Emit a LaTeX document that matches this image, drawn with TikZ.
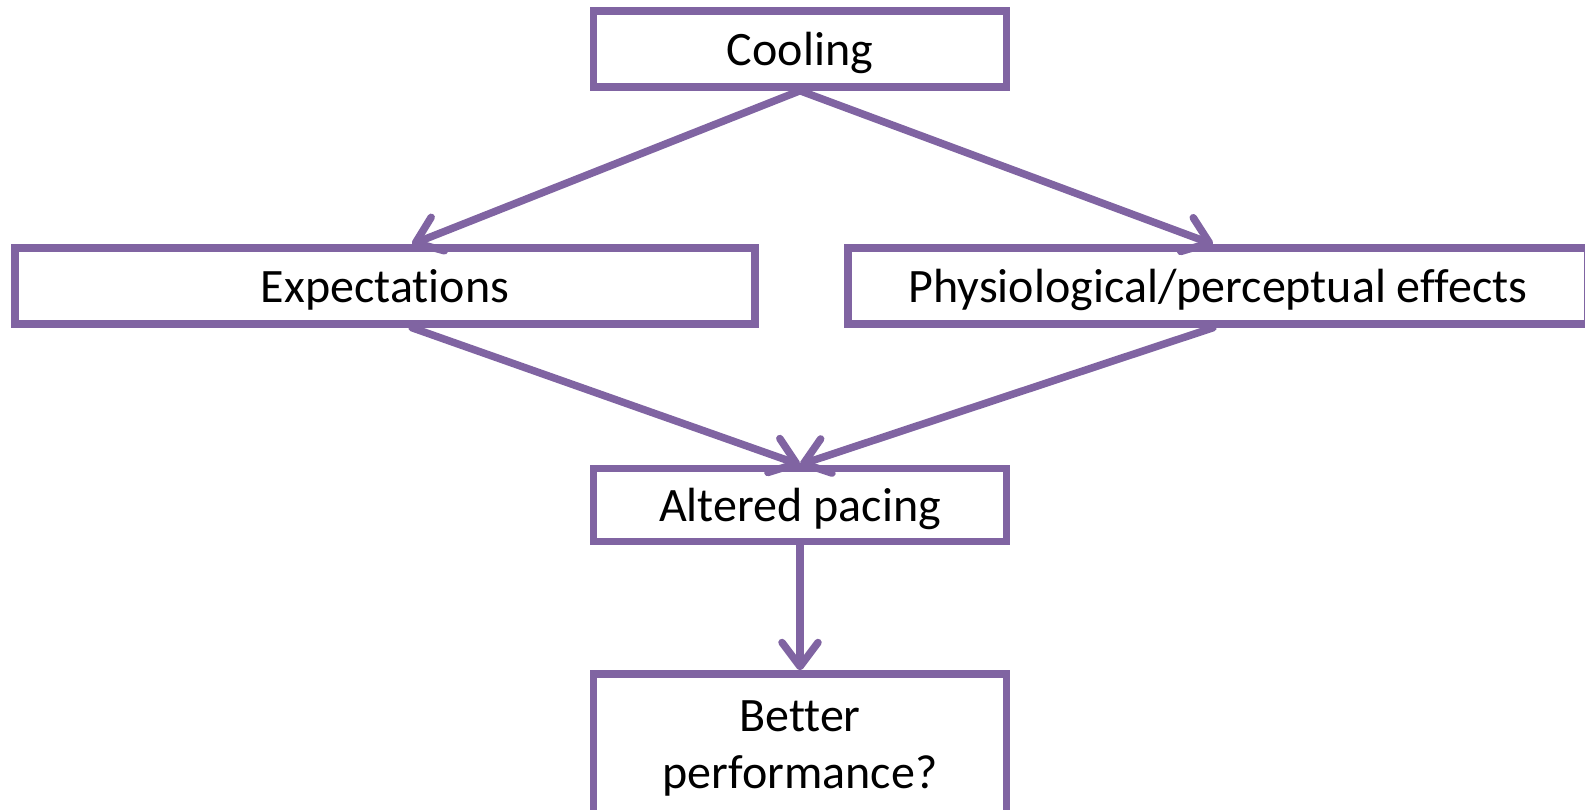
\documentclass[tikz,border=0pt]{standalone}
\usepackage{fontspec}
\setmainfont{Carlito}[Ligatures=NoCommon]
\usepackage{xcolor}
\usepackage{tikz}
\usetikzlibrary{arrows.meta, positioning}
\definecolor{boxpurple}{RGB}{128,100,162}

\begin{document}
\begin{tikzpicture}[
    x=1pt, y=-1pt,
    >={Straight Barb[length=24pt, width=36pt, round]},
    % Node styles
    stage/.style={rectangle, draw=boxpurple, line width=7.5pt, fill=white,
                  inner sep=0pt, minimum width=413pt, minimum height=76pt,
                  text centered, align=center, font=\fontsize{48}{57}\selectfont},
    oneline/.style={stage, text height=40pt, text depth=8pt},
    wide/.style={oneline, minimum width=740pt},
    arrow/.style={->, draw=boxpurple, line width=7.5pt, line cap=round}
]

% Frame
\useasboundingbox (0,0) rectangle (1585,809);
\clip (0,0) rectangle (1585,809);

% Boxes
\node (cooling) [oneline] at (800, 49) {Cooling};
\node (expect) [wide] at (385, 286) {Expectations};
\node (physio) [wide] at (1218, 286) {Physiological/perceptual effects};
\node (pacing) [oneline, minimum height=73pt] at (800, 505) {Altered pacing};
\node (perform) [stage, minimum height=148pt] at (800, 748) {Better\\performance?};

% Arrows
\draw [arrow] (cooling.south) -- ([xshift=27pt]expect.north);
\draw [arrow] (cooling.south) -- ([xshift=-5pt]physio.north);
\draw [arrow] ([xshift=27pt]expect.south) -- (pacing.north);
\draw [arrow] ([xshift=-5pt]physio.south) -- (pacing.north);
\draw [arrow] (pacing) -- (perform);

\end{tikzpicture}
\end{document}
